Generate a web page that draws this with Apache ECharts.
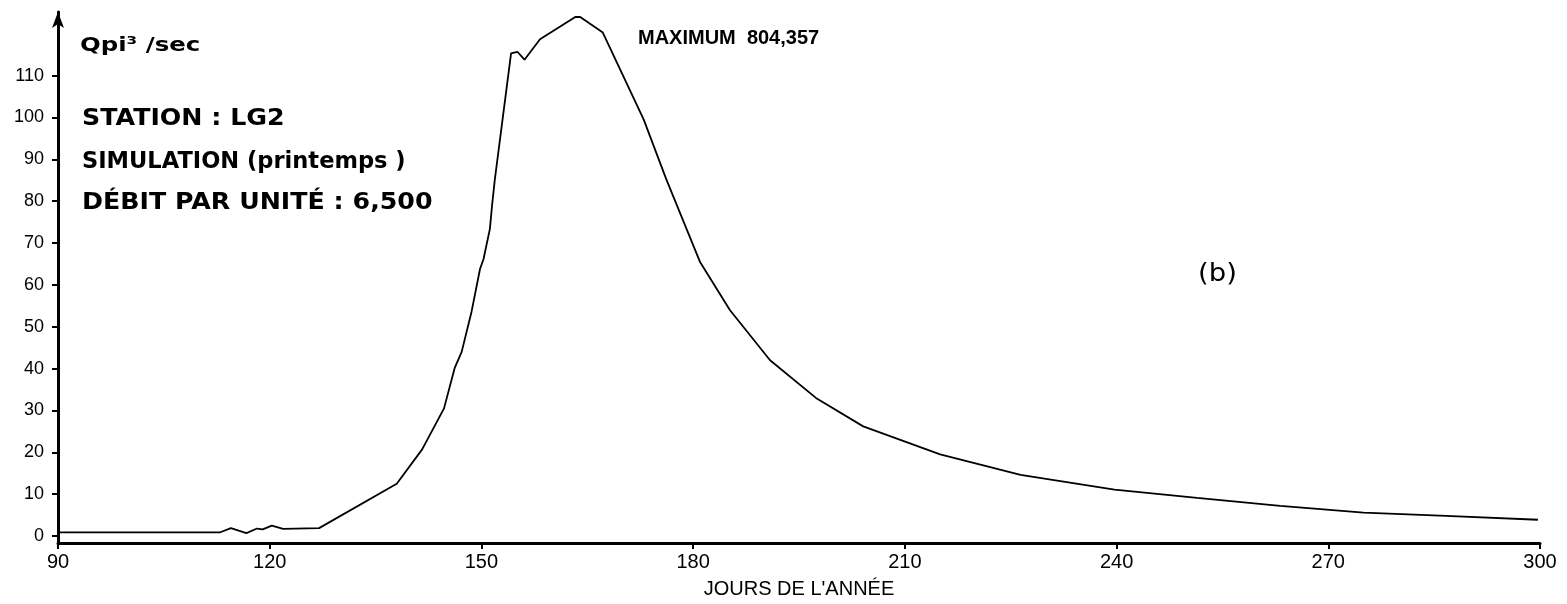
<!DOCTYPE html>
<html>
<head>
<meta charset="utf-8">
<script src="https://cdn.jsdelivr.net/npm/echarts@6/dist/echarts.min.js"></script>
<style>
  html, body { margin: 0; padding: 0; background: #fff; }
  #chart { width: 1567px; height: 604px; }
</style>
</head>
<body>
<div id="chart"></div>
<script>
// jours de l'année
var days = [90, 113, 114.5, 116.7, 118.2, 119, 120.3, 121.9, 127, 138, 141.6, 144.7, 146.2, 147.2,
  148.6, 149.8, 150.3, 151.2, 151.5, 151.9, 154.2, 155.1, 156.1, 158.3, 163.3, 164, 167.2, 173,
  176.2, 181, 185.2, 190.9, 197.4, 204.1, 215, 226.4, 239.7, 251.4, 263.2, 275, 286.7, 299.7];
// débit
var flow = [0.9, 0.9, 1.9, 0.7, 1.8, 1.6, 2.5, 1.7, 1.9, 12.5, 20.7, 30.5, 40.1, 44.0,
  53.6, 63.8, 66.2, 73.4, 78.9, 85.2, 115.3, 115.7, 113.8, 118.7, 124.0, 124.0, 120.3, 99.5,
  85.2, 65.4, 54.0, 42.0, 33.0, 26.2, 19.5, 14.6, 11.1, 9.1, 7.2, 5.6, 4.8, 3.9];
var xTicks = [90, 120, 150, 180, 210, 240, 270, 300];
var yTicks = [0, 10, 20, 30, 40, 50, 60, 70, 80, 90, 100, 110];

var font = '"DejaVu Sans", "Noto Sans", sans-serif';
var font2 = '"Liberation Sans", "DejaVu Sans", sans-serif';
var chart = echarts.init(document.getElementById('chart'));

var option = {
  animation: false,
  backgroundColor: '#fff',
  grid: { left: 58, right: 27, top: 12, bottom: 58.5 },
  xAxis: {
    type: 'value',
    min: 90,
    max: 300,
    interval: 30,
    name: "JOURS DE L'ANNÉE",
    nameLocation: 'middle',
    nameGap: 36,
    nameTextStyle: { color: '#000', fontSize: 20, fontFamily: font2 },
    axisLine: { onZero: false, lineStyle: { color: '#000', width: 3 } },
    axisTick: { length: 6, lineStyle: { color: '#000', width: 2 }, customValues: xTicks },
    axisLabel: { color: '#000', fontSize: 20, fontFamily: font2, margin: 9, customValues: xTicks },
    splitLine: { show: false }
  },
  yAxis: {
    type: 'value',
    min: -1.66,
    max: 125.2,
    axisLine: {
      show: true,
      symbol: ['none', 'arrow'],
      symbolSize: [9, 16],
      lineStyle: { color: '#000', width: 3 }
    },
    axisTick: { show: true, length: 6, lineStyle: { color: '#000', width: 2 }, customValues: yTicks },
    axisLabel: { color: '#000', fontSize: 18, fontFamily: font2, margin: 14, customValues: yTicks },
    splitLine: { show: false }
  },
  series: [{
    type: 'line',
    data: days.map(function (d, i) { return [d, flow[i]]; }),
    showSymbol: false,
    smooth: false,
    lineStyle: { color: '#000', width: 1.8 },
    z: 3
  }],
  graphic: [
    { type: 'text', x: 80, y: 46, scaleX: 1.22,
      style: { text: 'Qpi³ /sec', fill: '#000', font: 'bold 20px ' + font, verticalAlign: 'middle' } },
    { type: 'text', x: 82, y: 119, scaleX: 1.1,
      style: { text: 'STATION : LG2', fill: '#000', font: 'bold 23px ' + font, verticalAlign: 'middle' } },
    { type: 'text', x: 82, y: 162, scaleX: 0.98,
      style: { text: 'SIMULATION (printemps )', fill: '#000', font: 'bold 23px ' + font, verticalAlign: 'middle' } },
    { type: 'text', x: 82, y: 203, scaleX: 1.1,
      style: { text: 'DÉBIT PAR UNITÉ : 6,500', fill: '#000', font: 'bold 23px ' + font, verticalAlign: 'middle' } },
    { type: 'text', x: 638, y: 38,
      style: { text: 'MAXIMUM  804,357', fill: '#000', font: 'bold 20px ' + font2, verticalAlign: 'middle' } },
    { type: 'text', x: 1198, y: 274, scaleX: 1.1,
      style: { text: '(b)', fill: '#000', font: '25px ' + font, verticalAlign: 'middle' } }
  ]
};
chart.setOption(option);
</script>
</body>
</html>
